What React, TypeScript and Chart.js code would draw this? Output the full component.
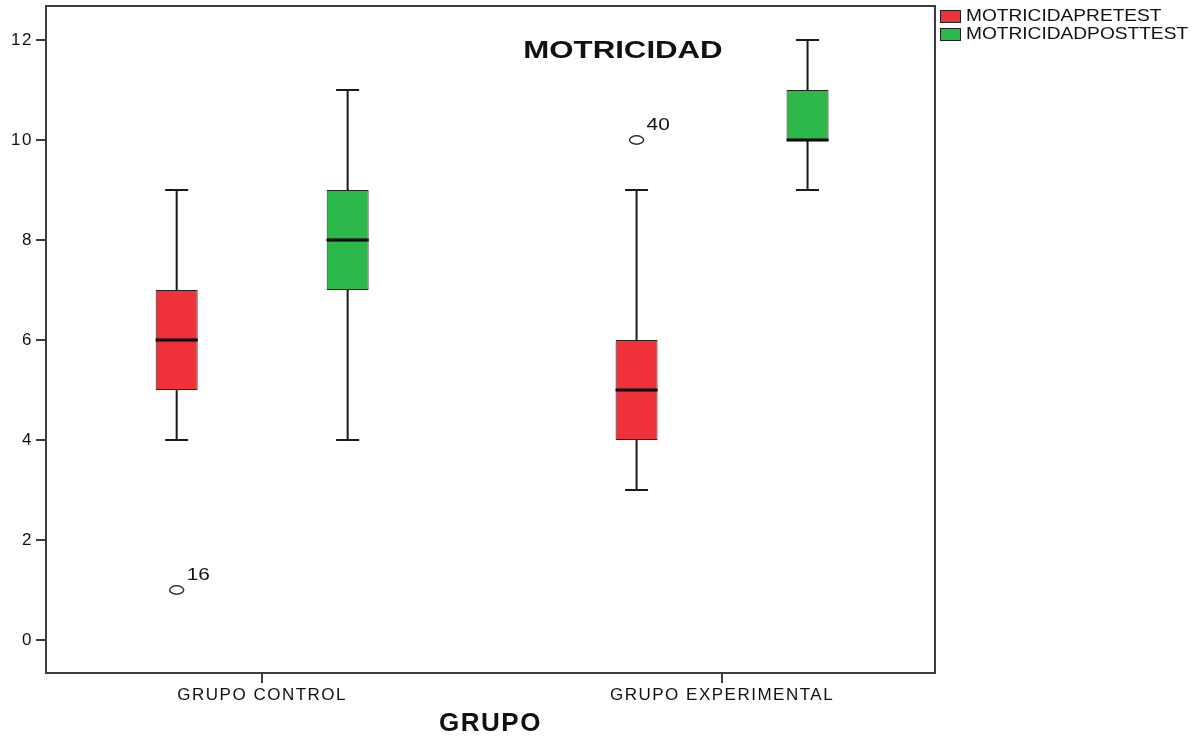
import { useEffect, useRef } from 'react';
import { Chart, registerables } from 'chart.js';

Chart.register(...registerables);

// ---- data ----
const groups = ['GRUPO CONTROL', 'GRUPO EXPERIMENTAL'];
const seriesNames = ['MOTRICIDAPRETEST', 'MOTRICIDADPOSTTEST'];
const seriesColors = ['#EF323A', '#2DB84A'];

const preMin = [4, 3];
const preQ1 = [5, 4];
const preMedian = [6, 5];
const preQ3 = [7, 6];
const preMax = [9, 9];
const preOutliers = [[{ value: 1, label: '16' }], [{ value: 10, label: '40' }]];

const postMin = [4, 9];
const postQ1 = [7, 10];
const postMedian = [8, 10];
const postQ3 = [9, 11];
const postMax = [11, 12];
const postOutliers: { value: number; label: string }[][] = [[], []];

const yTicks = [0, 2, 4, 6, 8, 10, 12];
const chartTitle = 'MOTRICIDAD';
const xTitle = 'GRUPO';

const FONT = "'Liberation Sans', Arial, sans-serif";

const stats = [
  { min: preMin, q1: preQ1, med: preMedian, q3: preQ3, max: preMax, out: preOutliers },
  { min: postMin, q1: postQ1, med: postMedian, q3: postQ3, max: postMax, out: postOutliers },
];

const boxPlugin = {
  id: 'boxExtras',
  beforeDraw(chart: any) {
    // the reference's axis text is horizontally wide; widen it a little
    (chart.ctx as any).letterSpacing = '1.5px';
  },
  beforeDatasetsDraw(chart: any) {
    (chart.ctx as any).letterSpacing = '0px';
  },
  afterDatasetsDraw(chart: any) {
    const ctx = chart.ctx;
    const ys = chart.scales.y;
    chart.data.datasets.forEach((ds: any, di: number) => {
      const st = stats[di];
      const meta = chart.getDatasetMeta(di);
      meta.data.forEach((bar: any, i: number) => {
        const x = bar.x;
        const half = bar.width / 2;
        const pMin = ys.getPixelForValue(st.min[i]);
        const pQ1 = ys.getPixelForValue(st.q1[i]);
        const pMed = ys.getPixelForValue(st.med[i]);
        const pQ3 = ys.getPixelForValue(st.q3[i]);
        const pMax = ys.getPixelForValue(st.max[i]);
        ctx.save();
        ctx.strokeStyle = '#1a1a1a';
        ctx.lineWidth = 2;
        ctx.beginPath();
        ctx.moveTo(x, pQ3);
        ctx.lineTo(x, pMax);
        ctx.moveTo(x, pQ1);
        ctx.lineTo(x, pMin);
        ctx.moveTo(x - 11.5, pMax);
        ctx.lineTo(x + 11.5, pMax);
        ctx.moveTo(x - 11.5, pMin);
        ctx.lineTo(x + 11.5, pMin);
        ctx.stroke();
        ctx.lineWidth = 3;
        ctx.strokeStyle = '#000';
        ctx.beginPath();
        ctx.moveTo(x - half, pMed);
        ctx.lineTo(x + half, pMed);
        ctx.stroke();
        // outliers
        st.out[i].forEach((o) => {
          const py = ys.getPixelForValue(o.value);
          ctx.lineWidth = 1.5;
          ctx.strokeStyle = '#333';
          ctx.beginPath();
          ctx.ellipse(x, py, 7, 4.2, 0, 0, Math.PI * 2);
          ctx.stroke();
          ctx.fillStyle = '#111';
          ctx.font = `16px ${FONT}`;
          ctx.textAlign = 'left';
          ctx.textBaseline = 'middle';
          ctx.save();
          ctx.translate(x + 10, py - 14);
          ctx.scale(1.3, 1);
          ctx.fillText(o.label, 0, 0);
          ctx.restore();
        });
        ctx.restore();
      });
    });
  },
  afterDraw(chart: any) {
    const ctx = chart.ctx;
    const a = chart.chartArea;
    ctx.save();
    (ctx as any).letterSpacing = '0px';
    // frame
    ctx.strokeStyle = '#3c3c3c';
    ctx.lineWidth = 2;
    ctx.strokeRect(a.left, a.top, a.right - a.left, a.bottom - a.top);
    // title inside plot
    ctx.fillStyle = '#111';
    ctx.font = `bold 24px ${FONT}`;
    ctx.textAlign = 'center';
    ctx.textBaseline = 'middle';
    ctx.save();
    ctx.translate(623, 51);
    ctx.scale(1.3, 1);
    ctx.fillText(chartTitle, 0, 0);
    ctx.restore();
    // legend
    chart.data.datasets.forEach((ds: any, di: number) => {
      const top = 10 + di * 18;
      ctx.fillStyle = ds.backgroundColor;
      ctx.fillRect(a.right + 5, top, 20, 12);
      ctx.strokeStyle = '#222';
      ctx.lineWidth = 1;
      ctx.strokeRect(a.right + 5.5, top + 0.5, 20, 12);
      ctx.fillStyle = '#111';
      ctx.font = `17px ${FONT}`;
      ctx.textAlign = 'left';
      ctx.textBaseline = 'middle';
      ctx.save();
      ctx.translate(a.right + 31, top + 6.5);
      ctx.scale(1.125, 1);
      ctx.fillText(ds.label, 0, 0);
      ctx.restore();
    });
    ctx.restore();
  },
};

export default function App() {
  const ref = useRef<HTMLCanvasElement>(null);
  useEffect(() => {
    if (!ref.current) return;
    const datasets = stats.map((st, di) => ({
      label: seriesNames[di],
      data: groups.map((_, i) => ({ x: i, y: [st.q1[i], st.q3[i]] })),
      backgroundColor: seriesColors[di],
      borderColor: '#222',
      borderWidth: 1,
      borderSkipped: false,
      categoryPercentage: 0.7435,
      barPercentage: 0.2456,
    }));
    const chart = new Chart(ref.current, {
      type: 'bar',
      data: { datasets } as any,
      plugins: [boxPlugin],
      options: {
        responsive: false,
        animation: false,
        layout: { padding: { left: 0, top: 6, right: 268, bottom: 0 } },
        plugins: { legend: { display: false }, title: { display: false }, tooltip: { enabled: false } },
        scales: {
          x: {
            type: 'linear',
            min: -0.47,
            max: 1.463,
            offset: false,
            afterBuildTicks: (s: any) => {
              s.ticks = groups.map((_, i) => ({ value: i }));
            },
            afterFit: (s: any) => {
              s.height = 64;
              s.paddingLeft = 0;
              s.paddingRight = 0;
            },
            grid: { offset: false, drawOnChartArea: false, drawTicks: true, tickLength: 10, color: '#3c3c3c', lineWidth: 2 },
            border: { display: false },
            ticks: {
              color: '#111',
              font: { family: FONT, size: 17 },
              padding: 2,
              maxRotation: 0,
              autoSkip: false,
              callback: (v: any) => groups[v] ?? '',
            },
            title: {
              display: true,
              text: xTitle,
              color: '#111',
              font: { family: FONT, size: 26, weight: 'bold', lineHeight: 1 },
              padding: { top: 0, bottom: 0 },
            },
          },
          y: {
            min: -0.66,
            max: 12.68,
            afterBuildTicks: (s: any) => {
              s.ticks = yTicks.map((v) => ({ value: v }));
            },
            afterFit: (s: any) => {
              s.width = 46;
              s.paddingTop = 0;
              s.paddingBottom = 0;
            },
            grid: { drawOnChartArea: false, drawTicks: true, tickLength: 10, color: '#3c3c3c', lineWidth: 2 },
            border: { display: false },
            ticks: { color: '#111', font: { family: FONT, size: 17 }, padding: 3 },
          },
        },
      } as any,
    });
    return () => chart.destroy();
  }, []);
  return (
    <div style={{ position: 'absolute', left: 0, top: 0, width: 1203, height: 737, background: '#fff' }}>
      <canvas ref={ref} width={1203} height={737} style={{ display: 'block' }} />
    </div>
  );
}
